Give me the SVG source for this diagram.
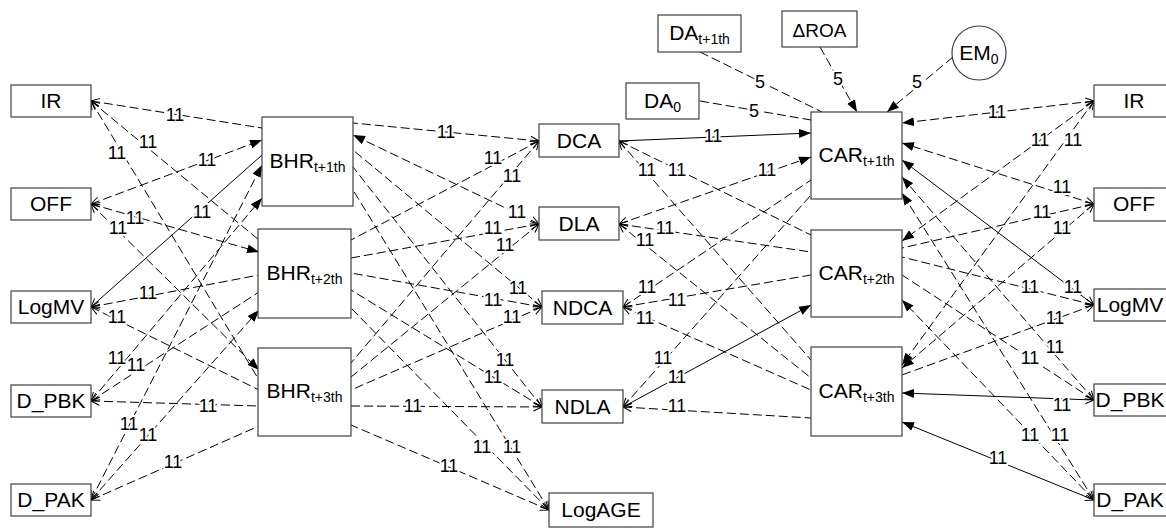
<svg xmlns="http://www.w3.org/2000/svg" width="1166" height="528" viewBox="0 0 1166 528">
<defs>
<marker id="fa" markerUnits="userSpaceOnUse" markerWidth="13" markerHeight="10" refX="12" refY="5" orient="auto" viewBox="0 0 13 10"><path d="M0,0.5 L12,5 L0,9.5 z" fill="#000"/></marker>
<marker id="oa" markerUnits="userSpaceOnUse" markerWidth="11" markerHeight="11" refX="9.5" refY="5.5" orient="auto-start-reverse" viewBox="0 0 11 11"><path d="M1,1.5 L9.5,5.5 L1,9.5" fill="none" stroke="#000" stroke-width="1"/></marker>
<style>
.b{fill:#fff;stroke:#404040;stroke-width:1.2}
.t{font-family:"Liberation Sans",Arial,sans-serif;font-size:21px;text-anchor:middle;fill:#000}
.s{font-size:14px}
.c{fill:none;stroke:#000;stroke-width:1}
.d{stroke-dasharray:9 4}
.o{marker-start:url(#oa)}
.f{marker-end:url(#fa)}
.l{font-family:"Liberation Sans",Arial,sans-serif;font-size:18px;text-anchor:middle;fill:#000;stroke:#fff;stroke-width:4;paint-order:stroke;stroke-linejoin:round}
</style>
</defs>
<g id="connectors">
<path class="c d o" d="M91,101 L262,128"/>
<path class="c d o" d="M91,101 L259,240"/>
<path class="c d o" d="M91,101 L259,380"/>
<path class="c d o f" d="M91,204 L262,140"/>
<path class="c d o f" d="M91,204 L259,252"/>
<path class="c d o f" d="M91,204 L259,370"/>
<path class="c o" d="M91,307 L262,155"/>
<path class="c d o" d="M91,307 L259,275"/>
<path class="c d o" d="M91,307 L259,390"/>
<path class="c d o f" d="M91,401 L262,198"/>
<path class="c d o" d="M91,401 L259,292"/>
<path class="c d o" d="M91,401 L259,406"/>
<path class="c d o f" d="M91,500 L262,165"/>
<path class="c d o f" d="M91,500 L259,310"/>
<path class="c d o" d="M91,500 L259,426"/>
<path class="c d o" d="M539,141 L353,123"/>
<path class="c d o f" d="M539,224 L353,135"/>
<path class="c d o" d="M542,307 L353,150"/>
<path class="c d o" d="M542,407 L353,167"/>
<path class="c d o" d="M549,510 L353,190"/>
<path class="c d o" d="M539,141 L351,240"/>
<path class="c d o" d="M539,224 L351,258"/>
<path class="c d o" d="M542,307 L351,273"/>
<path class="c d o" d="M542,407 L351,290"/>
<path class="c d o" d="M549,510 L351,308"/>
<path class="c d o" d="M539,141 L351,363"/>
<path class="c d o" d="M539,224 L351,377"/>
<path class="c d o" d="M542,307 L351,390"/>
<path class="c d o" d="M542,407 L351,406"/>
<path class="c d o" d="M549,510 L351,425"/>
<path class="c f" d="M619,141 L811,133"/>
<path class="c d o f" d="M619,224 L811,157"/>
<path class="c d o" d="M619,141 L811,235"/>
<path class="c d o" d="M619,141 L811,360"/>
<path class="c d o" d="M619,224 L811,252"/>
<path class="c d o" d="M619,224 L811,378"/>
<path class="c d o" d="M623,307 L811,180"/>
<path class="c d o" d="M623,307 L811,275"/>
<path class="c d o" d="M623,307 L811,390"/>
<path class="c d o" d="M623,407 L811,195"/>
<path class="c o f" d="M623,407 L811,305"/>
<path class="c d o" d="M623,407 L811,418"/>
<path class="c d o f" d="M1094,101 L902,123"/>
<path class="c d o f" d="M1094,101 L902,241"/>
<path class="c d o f" d="M1094,101 L902,365"/>
<path class="c d o f" d="M1094,204 L902,143"/>
<path class="c d o" d="M1094,204 L902,248"/>
<path class="c d o f" d="M1094,204 L902,368"/>
<path class="c o f" d="M1094,305 L902,160"/>
<path class="c d o" d="M1094,305 L902,257"/>
<path class="c d o" d="M1094,305 L902,375"/>
<path class="c d o f" d="M1094,400 L902,177"/>
<path class="c d o" d="M1094,400 L902,275"/>
<path class="c o f" d="M1094,400 L902,393"/>
<path class="c d o f" d="M1094,500 L902,193"/>
<path class="c d o f" d="M1094,500 L902,300"/>
<path class="c o f" d="M1094,500 L902,422"/>
<path class="c d" d="M700,52 L822,112"/>
<path class="c d f" d="M820,47 L857,112"/>
<path class="c d f" d="M953,57 L887,112"/>
<path class="c d" d="M700,101 L811,120"/>
<g id="labels">
<text class="l" x="175" y="121">11</text>
<text class="l" x="148" y="148">11</text>
<text class="l" x="117" y="159">11</text>
<text class="l" x="207" y="166">11</text>
<text class="l" x="135" y="224">11</text>
<text class="l" x="118" y="234">11</text>
<text class="l" x="202" y="218">11</text>
<text class="l" x="148" y="299">11</text>
<text class="l" x="117" y="323">11</text>
<text class="l" x="117" y="364">11</text>
<text class="l" x="136" y="371">11</text>
<text class="l" x="208" y="412">11</text>
<text class="l" x="129" y="430">11</text>
<text class="l" x="148" y="441">11</text>
<text class="l" x="173" y="468">11</text>
<text class="l" x="446" y="138">11</text>
<text class="l" x="517" y="218">11</text>
<text class="l" x="518" y="294">11</text>
<text class="l" x="505" y="366">11</text>
<text class="l" x="512" y="453">11</text>
<text class="l" x="493" y="164">11</text>
<text class="l" x="493" y="234">11</text>
<text class="l" x="493" y="306">11</text>
<text class="l" x="493" y="383">11</text>
<text class="l" x="482" y="453">11</text>
<text class="l" x="512" y="182">11</text>
<text class="l" x="505" y="251">11</text>
<text class="l" x="512" y="323">11</text>
<text class="l" x="413" y="412">11</text>
<text class="l" x="449" y="472">11</text>
<text class="l" x="713" y="142">11</text>
<text class="l" x="767" y="176">11</text>
<text class="l" x="677" y="176">11</text>
<text class="l" x="647" y="176">11</text>
<text class="l" x="665" y="234">11</text>
<text class="l" x="645" y="246">11</text>
<text class="l" x="647" y="293">11</text>
<text class="l" x="677" y="306">11</text>
<text class="l" x="645" y="324">11</text>
<text class="l" x="663" y="364">11</text>
<text class="l" x="677" y="383">11</text>
<text class="l" x="677" y="412">11</text>
<text class="l" x="997" y="118">11</text>
<text class="l" x="1040" y="146">11</text>
<text class="l" x="1073" y="146">11</text>
<text class="l" x="1062" y="193">11</text>
<text class="l" x="1042" y="218">11</text>
<text class="l" x="1062" y="234">11</text>
<text class="l" x="1073" y="293">11</text>
<text class="l" x="1030" y="293">11</text>
<text class="l" x="1055" y="324">11</text>
<text class="l" x="1055" y="353">11</text>
<text class="l" x="1030" y="364">11</text>
<text class="l" x="1062" y="411">11</text>
<text class="l" x="1060" y="441">11</text>
<text class="l" x="1030" y="441">11</text>
<text class="l" x="998" y="464">11</text>
<text class="l" x="760" y="88">5</text>
<text class="l" x="838" y="85">5</text>
<text class="l" x="917" y="88">5</text>
<text class="l" x="754" y="117">5</text>
</g>
</g>
<g id="L_IR"><rect class="b" x="11" y="85" width="80" height="32"/><text class="t" x="51" y="108">IR</text></g>
<g id="L_OFF"><rect class="b" x="11" y="188" width="80" height="32"/><text class="t" x="51" y="211">OFF</text></g>
<g id="L_LogMV"><rect class="b" x="11" y="291" width="80" height="32"/><text class="t" x="51" y="314">LogMV</text></g>
<g id="L_D_PBK"><rect class="b" x="11" y="385" width="80" height="32"/><text class="t" x="51" y="408">D_PBK</text></g>
<g id="L_D_PAK"><rect class="b" x="11" y="484" width="80" height="32"/><text class="t" x="51" y="507">D_PAK</text></g>
<g id="BHR1"><rect class="b" x="262" y="117" width="91" height="89"/><text class="t" x="307.5" y="168">BHR<tspan class="s" dy="4">t+1th</tspan></text></g>
<g id="BHR2"><rect class="b" x="258" y="229" width="93" height="89"/><text class="t" x="304.5" y="280">BHR<tspan class="s" dy="4">t+2th</tspan></text></g>
<g id="BHR3"><rect class="b" x="258" y="348" width="93" height="88"/><text class="t" x="304.5" y="398">BHR<tspan class="s" dy="4">t+3th</tspan></text></g>
<g id="DCA"><rect class="b" x="539" y="124" width="80" height="33"/><text class="t" x="579" y="148">DCA</text></g>
<g id="DLA"><rect class="b" x="539" y="207" width="80" height="33"/><text class="t" x="579" y="231">DLA</text></g>
<g id="NDCA"><rect class="b" x="542" y="291" width="81" height="33"/><text class="t" x="582.5" y="315">NDCA</text></g>
<g id="NDLA"><rect class="b" x="542" y="390" width="81" height="33"/><text class="t" x="582.5" y="414">NDLA</text></g>
<g id="LogAGE"><rect class="b" x="549" y="493" width="104" height="34"/><text class="t" x="601" y="517">LogAGE</text></g>
<g id="CAR1"><rect class="b" x="811" y="112" width="91" height="87"/><text class="t" x="856.5" y="162">CAR<tspan class="s" dy="4">t+1th</tspan></text></g>
<g id="CAR2"><rect class="b" x="811" y="230" width="91" height="87"/><text class="t" x="856.5" y="280">CAR<tspan class="s" dy="4">t+2th</tspan></text></g>
<g id="CAR3"><rect class="b" x="811" y="347" width="91" height="89"/><text class="t" x="856.5" y="398">CAR<tspan class="s" dy="4">t+3th</tspan></text></g>
<g id="DA_t1"><rect class="b" x="658" y="15" width="83" height="37"/><text class="t" x="699.5" y="40">DA<tspan class="s" dy="4">t+1th</tspan></text></g>
<g id="dROA"><rect class="b" x="782" y="11" width="75" height="36"/><text class="t" x="819.5" y="37" style="font-size:19px">ΔROA</text></g>
<g id="DA0"><rect class="b" x="626" y="83" width="73" height="36"/><text class="t" x="662.5" y="108">DA<tspan class="s" dy="4">0</tspan></text></g>
<g id="EM0"><circle class="b" cx="979" cy="53" r="27"/><text class="t" x="979" y="60">EM<tspan class="s" dy="4">0</tspan></text></g>
<g id="R_IR"><rect class="b" x="1094" y="85" width="80" height="32"/><text class="t" x="1134" y="108">IR</text></g>
<g id="R_OFF"><rect class="b" x="1094" y="188" width="80" height="33"/><text class="t" x="1134" y="211">OFF</text></g>
<g id="R_LogMV"><rect class="b" x="1094" y="289" width="80" height="32"/><text class="t" x="1130" y="312">LogMV</text></g>
<g id="R_D_PBK"><rect class="b" x="1094" y="384" width="80" height="32"/><text class="t" x="1130" y="407">D_PBK</text></g>
<g id="R_D_PAK"><rect class="b" x="1094" y="484" width="80" height="32"/><text class="t" x="1130" y="507">D_PAK</text></g>
</svg>
